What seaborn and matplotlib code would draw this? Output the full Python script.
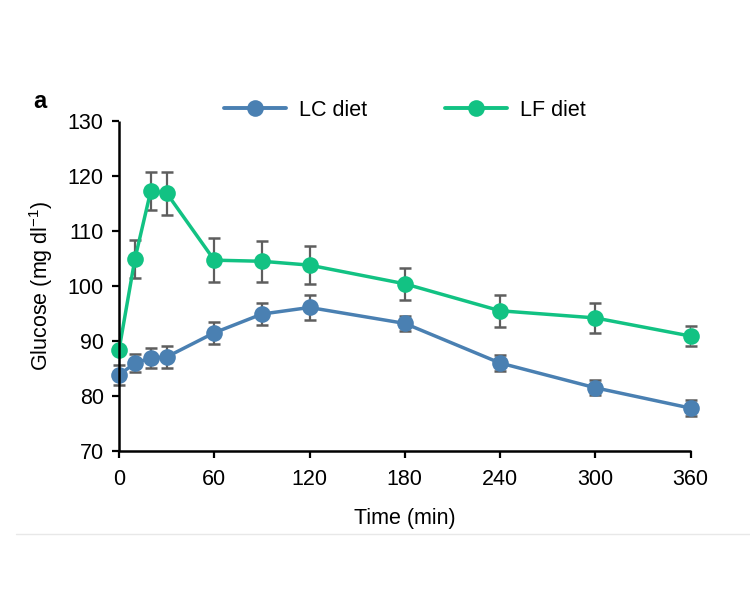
import pandas as pd
import numpy as np
import matplotlib.pyplot as plt
import seaborn as sns
from matplotlib.lines import Line2D

# dati
time_min = [0, 10, 20, 30, 60, 90, 120, 180, 240, 300, 360]
lc_mean = [83.8, 86.0, 86.9, 87.1, 91.5, 94.9, 96.1, 93.2, 86.0, 81.5, 77.8]
lc_sem = [1.8, 1.7, 1.8, 2.0, 2.0, 2.0, 2.2, 1.4, 1.5, 1.4, 1.5]
lf_mean = [88.4, 104.9, 117.3, 116.9, 104.7, 104.5, 103.8, 100.4, 95.5, 94.2, 90.9]
lf_sem = [0.6, 3.5, 3.5, 3.9, 4.0, 3.7, 3.5, 2.9, 2.9, 2.8, 1.8]
diets = ['LC diet', 'LF diet']
x_ticks = [0, 60, 120, 180, 240, 300, 360]
y_ticks = [70, 80, 90, 100, 110, 120, 130]

colors = {'LC diet': '#4a80b2', 'LF diet': '#12c283'}

df = pd.concat([
    pd.DataFrame({'time': time_min, 'glucose': lc_mean, 'sem': lc_sem, 'diet': diets[0]}),
    pd.DataFrame({'time': time_min, 'glucose': lf_mean, 'sem': lf_sem, 'diet': diets[1]}),
])

sns.set_theme(style="ticks")
plt.rcParams['font.family'] = ['Liberation Sans', 'DejaVu Sans']
plt.rcParams['mathtext.default'] = 'regular'
plt.rcParams['text.color'] = 'black'
plt.rcParams['axes.labelcolor'] = 'black'
plt.rcParams['xtick.color'] = 'black'
plt.rcParams['ytick.color'] = 'black'

fig = plt.figure(figsize=(7.5, 6.07), dpi=100)
ax = fig.add_axes([0.1587, 0.257, 0.762, 0.5436])

# barre di errore dietro ai punti
for d in diets:
    sub = df[df['diet'] == d]
    ax.errorbar(sub['time'], sub['glucose'], yerr=sub['sem'], fmt='none',
                ecolor='#5e5e5e', elinewidth=1.6, capsize=4.5, capthick=1.8, zorder=1)

sns.lineplot(data=df, x='time', y='glucose', hue='diet', palette=colors,
             marker='o', markersize=12, markeredgewidth=0, linewidth=2.5,
             errorbar=None, ax=ax, legend=False, zorder=2)

ax.set_xlim(0, 360)
ax.set_ylim(70, 130)
ax.set_xticks(x_ticks)
ax.set_yticks(y_ticks)
ax.tick_params(labelsize=15.5, length=5, width=1.6, pad=6)
ax.tick_params(axis='x', pad=8)
for s in ['left', 'bottom']:
    ax.spines[s].set_linewidth(1.8)
    ax.spines[s].set_color('black')
    ax.spines[s].set_capstyle('butt')
sns.despine(ax=ax)
for line in ax.lines:
    line.set_clip_on(False)

ax.set_xlabel('Time (min)', fontsize=15.5, labelpad=13)
ax.set_ylabel('Glucose (mg dl$^{\u22121}$)', fontsize=15.5, labelpad=9)

handles = [Line2D([], [], color=colors[d], marker='o', markersize=12,
                  markeredgewidth=0, linewidth=2.8) for d in diets]
ax.legend(handles, diets, loc='lower center', bbox_to_anchor=(0.5, 0.975), ncol=2,
          frameon=False, fontsize=15.5, handlelength=2.9, columnspacing=3.6,
          handletextpad=0.6, borderaxespad=0)

fig.text(0.053, 0.833, 'a', fontsize=17, fontweight='bold', ha='center', va='center')
fig.add_artist(Line2D([0.021, 1.0], [1 - 534 / 607, 1 - 534 / 607],
                      transform=fig.transFigure, color='#e8e8e8', linewidth=1))

plt.savefig("out.png", dpi=100)
